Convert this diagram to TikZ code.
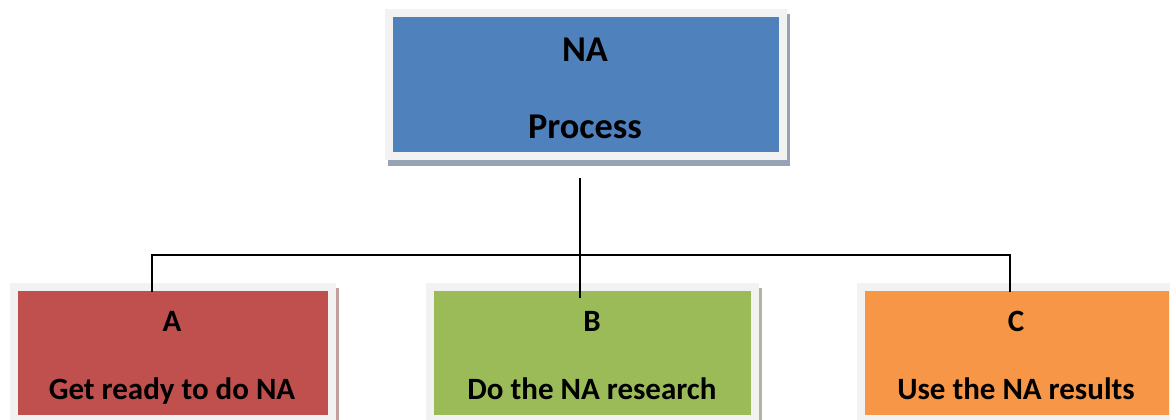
\documentclass[tikz,border=0pt]{standalone}
\usepackage{fontspec}
\setmainfont{Carlito}
\usetikzlibrary{backgrounds}
\definecolor{framecol}{HTML}{F2F2F2}
\definecolor{topblue}{HTML}{4F81BD}
\definecolor{ared}{HTML}{C0504D}
\definecolor{bgreen}{HTML}{9BBB59}
\definecolor{corange}{HTML}{F79646}
\definecolor{topshadow}{HTML}{95A3B4}
\definecolor{ashadow}{HTML}{C29E9E}
\definecolor{bshadow}{HTML}{AEB79C}
\definecolor{cshadow}{HTML}{D6B89E}
\begin{document}
\begin{tikzpicture}[x=1pt,y=-1pt,
  framebox/.style={draw=framecol, line width=8pt, inner sep=0pt, rectangle},
  toptext/.style={anchor=base, font=\fontsize{36.3}{40}\selectfont\bfseries},
  subtext/.style={anchor=base, font=\fontsize{31}{34}\selectfont\bfseries},
  conn/.style={draw=black, line width=2pt}]
\useasboundingbox (0,0) rectangle (1170,420);
% boxes
\node[framebox, fill=topblue, minimum width=394pt, minimum height=143pt] (top) at (586,84.5) {};
\node[framebox, fill=ared, minimum width=318pt, minimum height=132pt] (boxa) at (173,353) {};
\node[framebox, fill=bgreen, minimum width=325pt, minimum height=132pt] (boxb) at (592.5,353) {};
\node[framebox, fill=corange, minimum width=312pt, minimum height=132pt] (boxc) at (1017,353) {};
% shadows
\begin{scope}[on background layer]
  \fill[topshadow] ([xshift=3pt,yshift=-5pt]top.north west) rectangle ([xshift=3pt,yshift=-6pt]top.south east);
  \fill[ashadow] ([xshift=2.5pt,yshift=-5pt]boxa.north west) rectangle ([xshift=2.5pt,yshift=-6pt]boxa.south east);
  \fill[bshadow] ([xshift=3pt,yshift=-5pt]boxb.north west) rectangle ([xshift=3pt,yshift=-6pt]boxb.south east);
  \fill[cshadow] ([xshift=3pt,yshift=-5pt]boxc.north west) rectangle ([xshift=3pt,yshift=-6pt]boxc.south east);
\end{scope}
% texts
\node[toptext] (tNA) at (585,62) {NA};
\node[toptext] (tProc) at (585,138) {Process};
\node[subtext] (tA) at (172,331) {A};
\node[subtext] (tAtext) at (172,399) {Get ready to do NA};
\node[subtext] (tB) at (592,331) {B};
\node[subtext] (tBtext) at (592,399) {Do the NA research};
\node[subtext] (tC) at (1016,331) {C};
\node[subtext] (tCtext) at (1016,399) {Use the NA results};
% connectors
\coordinate (stem) at (580,178);
\coordinate (bEnd) at (580,298);
\coordinate (aEnd) at (152,292);
\coordinate (cEnd) at (1010,292);
\draw[conn] (stem) -- (bEnd);
\draw[conn] (aEnd) -- ++(0,-37) -| (cEnd);
\end{tikzpicture}
\end{document}
